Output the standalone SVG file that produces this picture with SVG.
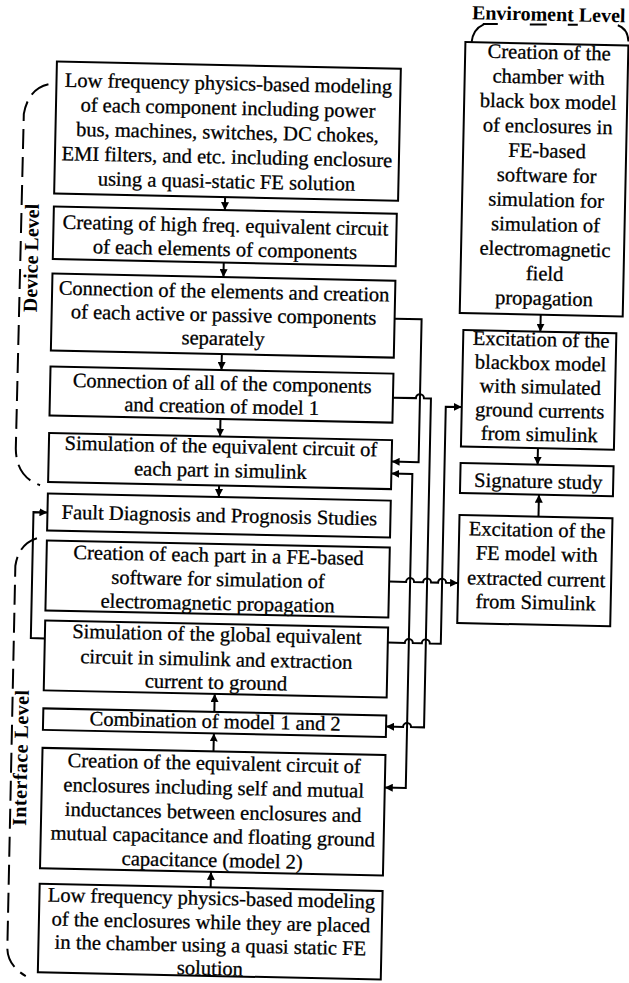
<svg xmlns="http://www.w3.org/2000/svg" width="629" height="983" viewBox="0 0 629 983">
<defs>
<style>
.box{fill:#fff;stroke:#000;stroke-width:2}
.t{font-family:"Liberation Serif","Times New Roman",serif;font-size:20.5px;fill:#000;stroke:#000;stroke-width:0.3px;text-anchor:middle}
.lbl{font-family:"Liberation Serif","Times New Roman",serif;font-size:20px;font-weight:bold;fill:#000}
.c{fill:none;stroke:#000;stroke-width:2;marker-end:url(#ah)}
.br{fill:none;stroke:#000;stroke-width:2}
.dash{stroke-dasharray:20 8}
</style>
<marker id="ah" viewBox="0 0 8 8" refX="8" refY="4" markerWidth="8" markerHeight="8" markerUnits="userSpaceOnUse" orient="auto-start-reverse"><path d="M0,0 L8,4 L0,8 z" fill="#000"/></marker>
</defs>
<rect width="629" height="983" fill="#fff"/>
<g transform="rotate(1.2 314 490)">
<g id="labels">
<text class="lbl" x="462" y="16">Enviroment Level</text>
<path class="br" d="M462,40 Q463,26 474,21"/>
<path class="br" d="M473,20.5 L608,19" stroke-dasharray="15 32 17 21 10 40"/>
<path class="br" d="M608,19 Q618,22 619,35"/>
<path class="br dash" d="M40,90 Q20,95 16,120 L15,455 Q16,483 40,491"/>
<text class="lbl" transform="translate(33,264) rotate(-90)" text-anchor="middle">Device Level</text>
<path class="br dash" d="M38,544 Q20,550 17,572 L17,955 Q18,972 36,982"/>
<text class="lbl" transform="translate(33,764) rotate(-90)" text-anchor="middle" textLength="136" lengthAdjust="spacing">Interface Level</text>
</g>
<g id="connectors">
<path class="c" d="M219,199 V212"/>
<path class="c" d="M219,264.5 V279"/>
<path class="c" d="M219,356 V372"/>
<path class="c" d="M219,421 V438.5"/>
<path class="c" d="M219,487.5 V499"/>
<path class="c" d="M219,714 V696"/>
<path class="c" d="M219,753.5 V735.5"/>
<path class="c" d="M219,889.5 V874"/>
<path class="c" d="M537,310 V327"/>
<path class="c" d="M537,443.5 V460"/>
<path class="c" d="M539,512 V490"/>
<path class="c" d="M391,317 H418 V460 H391"/>
<path class="c" d="M391,396 H414 A4,4 0 0 1 422,396 H429 V725 H416 A4,4 0 0 0 408,725 H391"/>
<path class="c" d="M391,472 H412 V786 H391" marker-start="url(#ah)"/>
<path class="c" d="M391,580 H408 A4,4 0 0 1 416,580 H425 A4,4 0 0 1 433,580 H440 A4,4 0 0 1 448,580 H460"/>
<path class="c" d="M391,641 H408 A4,4 0 0 1 416,641 H425 A4,4 0 0 1 433,641 H444 V404 H460"/>
<path class="c" d="M48,644 H34 V518 H48"/>
</g>
<g id="nodeA">
<rect class="box" x="48" y="67" width="344" height="132"/>
<text class="t" x="220" y="92">Low frequency physics-based modeling</text>
<text class="t" x="220" y="116.5">of each component including power</text>
<text class="t" x="220" y="141">bus, machines, switches, DC chokes,</text>
<text class="t" x="220" y="165.5">EMI filters, and etc. including enclosure</text>
<text class="t" x="220" y="190">using a quasi-static FE solution</text>
</g>
<g id="nodeB">
<rect class="box" x="48" y="212" width="343" height="52.5"/>
<text class="t" x="220" y="234">Creating of high freq. equivalent circuit</text>
<text class="t" x="220" y="258">of each elements of components</text>
</g>
<g id="nodeC">
<rect class="box" x="48" y="279" width="343" height="77"/>
<text class="t" x="220" y="300">Connection of the elements and creation</text>
<text class="t" x="220" y="323.5">of each active or passive components</text>
<text class="t" x="220" y="347">separately</text>
</g>
<g id="nodeD">
<rect class="box" x="48" y="372" width="343" height="49"/>
<text class="t" x="220" y="392">Connection of all of the components</text>
<text class="t" x="220" y="415">and creation of model 1</text>
</g>
<g id="nodeE">
<rect class="box" x="48" y="438.5" width="343" height="49"/>
<text class="t" x="220" y="455">Simulation of the equivalent circuit of</text>
<text class="t" x="220" y="479">each part in simulink</text>
</g>
<g id="nodeF">
<rect class="box" x="48" y="499" width="343" height="37"/>
<text class="t" x="220" y="524">Fault Diagnosis and Prognosis Studies</text>
</g>
<g id="nodeG">
<rect class="box" x="48" y="546" width="343" height="70"/>
<text class="t" x="220" y="564">Creation of each part in a FE-based</text>
<text class="t" x="220" y="588">software for simulation of</text>
<text class="t" x="220" y="612">electromagnetic propagation</text>
</g>
<g id="nodeH">
<rect class="box" x="48" y="626" width="343" height="70"/>
<text class="t" x="220" y="643">Simulation of the global equivalent</text>
<text class="t" x="220" y="668">circuit in simulink and extraction</text>
<text class="t" x="220" y="691">current to ground</text>
</g>
<g id="nodeI">
<rect class="box" x="48" y="714" width="343" height="21.5"/>
<text class="t" x="220" y="730">Combination of model 1 and 2</text>
</g>
<g id="nodeJ">
<rect class="box" x="48" y="753.5" width="343" height="120.5"/>
<text class="t" x="220" y="772">Creation of the equivalent circuit of</text>
<text class="t" x="220" y="796.5">enclosures including self and mutual</text>
<text class="t" x="220" y="821">inductances between enclosures and</text>
<text class="t" x="220" y="845">mutual capacitance and floating ground</text>
<text class="t" x="220" y="869">capacitance (model 2)</text>
</g>
<g id="nodeK">
<rect class="box" x="48" y="889.5" width="343" height="88.5"/>
<text class="t" x="220" y="907">Low frequency physics-based modeling</text>
<text class="t" x="220" y="931">of the enclosures while they are placed</text>
<text class="t" x="220" y="954">in the chamber using a quasi static FE</text>
<text class="t" x="220" y="977">solution</text>
</g>
<g id="nodeR1">
<rect class="box" x="456" y="39" width="163" height="271"/>
<text class="t" x="540" y="54.3">Creation of the</text>
<text class="t" x="540" y="78.9">chamber with</text>
<text class="t" x="540" y="103.5">black box model</text>
<text class="t" x="540" y="128.1">of enclosures in</text>
<text class="t" x="540" y="152.7">FE-based</text>
<text class="t" x="540" y="177.3">software for</text>
<text class="t" x="540" y="201.9">simulation for</text>
<text class="t" x="540" y="226.5">simulation of</text>
<text class="t" x="540" y="251.1">electromagnetic</text>
<text class="t" x="540" y="275.7">field</text>
<text class="t" x="540" y="300.3">propagation</text>
</g>
<g id="nodeR2">
<rect class="box" x="460" y="327" width="153" height="116.5"/>
<text class="t" x="538" y="341.5">Excitation of the</text>
<text class="t" x="538" y="365.2">blackbox model</text>
<text class="t" x="538" y="388.9">with simulated</text>
<text class="t" x="538" y="412.6">ground currents</text>
<text class="t" x="538" y="436.3">from simulink</text>
</g>
<g id="nodeR3">
<rect class="box" x="460" y="460" width="153" height="30"/>
<text class="t" x="538" y="483.3">Signature study</text>
</g>
<g id="nodeR4">
<rect class="box" x="460" y="512" width="153" height="108"/>
<text class="t" x="538" y="532">Excitation of the</text>
<text class="t" x="538" y="556">FE model with</text>
<text class="t" x="538" y="581">extracted current</text>
<text class="t" x="538" y="604.5">from Simulink</text>
</g>
</g>
</svg>
